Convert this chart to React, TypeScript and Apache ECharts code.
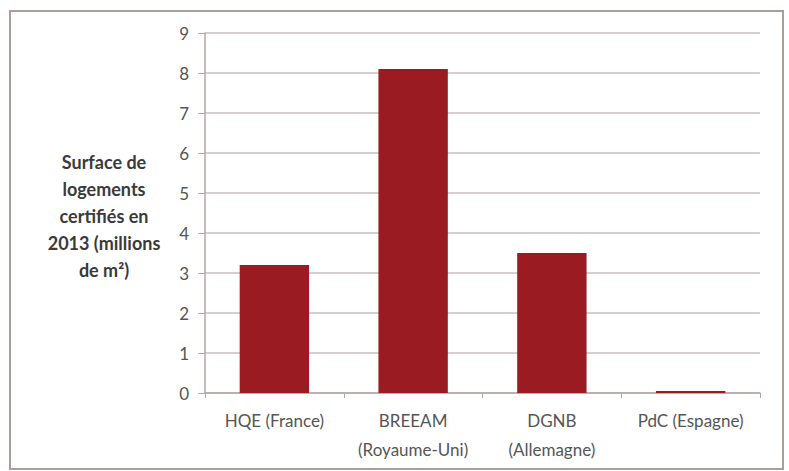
import React, { useEffect, useRef } from "react";
import * as echarts from "echarts";

const categories = ["HQE (France)", "BREEAM\n(Royaume-Uni)", "DGNB\n(Allemagne)", "PdC (Espagne)"];
const values = [3.2, 8.1, 3.5, 0.05];
const yTitleLines = ["Surface de", "logements", "certifiés en", "2013 (millions", "de m²)"];

export default function App() {
  const ref = useRef<HTMLDivElement>(null);
  useEffect(() => {
    const chart = echarts.init(ref.current!, null, { renderer: "svg" });
    chart.setOption({
      animation: false,
      backgroundColor: "#ffffff",
      textStyle: { fontFamily: "Lato" },
      grid: { left: 205, right: 29, top: 33, bottom: 78, containLabel: false },
      xAxis: {
        type: "category",
        data: categories,
        axisLine: { lineStyle: { color: "#b3a7a4", width: 1.5 } },
        axisTick: { show: true, length: 5, lineStyle: { color: "#b3a7a4" } },
        axisLabel: { color: "#555555", fontSize: 17, lineHeight: 29, margin: 13, interval: 0 },
      },
      yAxis: {
        type: "value",
        min: 0,
        max: 9,
        interval: 1,
        axisLine: { show: true, lineStyle: { color: "#b3a7a4", width: 1.5 } },
        axisTick: { show: true, length: 7, lineStyle: { color: "#b3a7a4" } },
        axisLabel: { color: "#555555", fontSize: 17, margin: 16 },
        splitLine: { lineStyle: { color: "#c9bfbc", width: 1.5 } },
      },
      graphic: [
        {
          type: "rect",
          shape: { x: 10, y: 11, width: 773, height: 458 },
          style: { fill: "none", stroke: "#a99e9a", lineWidth: 2 },
          silent: true,
        },
        {
          type: "text",
          x: 104,
          y: 148,
          style: {
            text: yTitleLines.join("\n"),
            textAlign: "center",
            fontFamily: "Lato",
            fontWeight: "bold",
            fontSize: 18,
            lineHeight: 27,
            fill: "#3a3a3a",
          },
        },
      ],
      series: [
        {
          type: "bar",
          data: values,
          barWidth: "50%",
          itemStyle: { color: "#9a1b22" },
        },
      ],
    });
    return () => chart.dispose();
  }, []);
  return <div ref={ref} style={{ width: 789, height: 471, position: "absolute", left: 0, top: 0 }} />;
}
